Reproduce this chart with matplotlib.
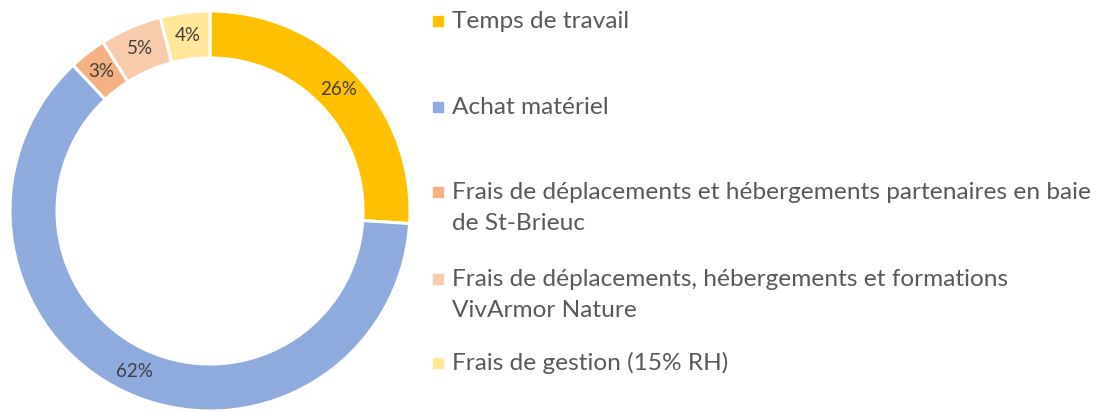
import matplotlib
matplotlib.use("Agg")
import matplotlib.pyplot as plt
from matplotlib.patches import Rectangle

categories = [
    "Temps de travail",
    "Achat matériel",
    "Frais de déplacements et hébergements partenaires en baie\nde St-Brieuc",
    "Frais de déplacements, hébergements et formations\nVivArmor Nature",
    "Frais de gestion (15% RH)",
]
values = [26, 62, 3, 5, 4]
pct_labels = ["26%", "62%", "3%", "5%", "4%"]
colors = ["#FFC000", "#8FAADC", "#F4B183", "#F8CBAD", "#FFE699"]
legend_y = [21, 107, 208, 295, 363]   # text block centres (px from top)
marker_y = [21, 107, 192, 279, 363]   # first-line centres (px from top)

W, H = 1111, 412
fig = plt.figure(figsize=(W / 100, H / 100), dpi=100)
plt.rcParams['font.family'] = ['Lato', 'DejaVu Sans']

ax = fig.add_axes([10 / W, 1 / H, 400 / W, 400 / H])
wedges, texts, autotexts = ax.pie(
    values, colors=colors, startangle=90, counterclock=False,
    radius=1.0, labels=None,
    autopct=lambda p: "", pctdistance=0.885,
    wedgeprops=dict(width=0.235, edgecolor="white", linewidth=2.2),
)
for at, lab in zip(autotexts, pct_labels):
    at.set_text(lab)
    at.set_color("#404040")
    at.set_fontsize(13.5)
ax.set_xlim(-1, 1)
ax.set_ylim(-1, 1)
ax.set_aspect("equal")
ax.axis("off")

for cat, col, yc, ym in zip(categories, colors, legend_y, marker_y):
    fig.patches.append(Rectangle((433 / W, (H - ym - 5) / H), 10 / W, 10 / H,
                                 transform=fig.transFigure, color=col))
    fig.text(452 / W, (H - yc) / H, cat, fontsize=17.6, color="#595959",
             va="center", ha="left", linespacing=1.6)

fig.savefig("out.png", dpi=100)
